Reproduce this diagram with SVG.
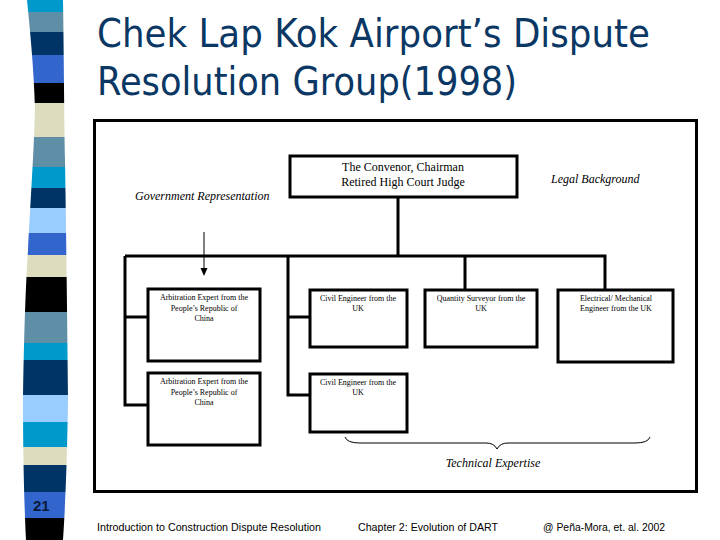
<svg xmlns="http://www.w3.org/2000/svg" width="720" height="540" viewBox="0 0 720 540">
<style>
.frame{fill:none;stroke:#000;stroke-width:3}
.box{fill:#fff;stroke:#000;stroke-width:3}
.conn{fill:none;stroke:#000;stroke-width:3}
.thin{fill:none;stroke:#000;stroke-width:1}
.title{font-family:"DejaVu Sans","Open Sans",sans-serif;font-size:39px;fill:#0b3764}
.head{font-family:"Liberation Serif",serif;font-size:12px;fill:#000;text-anchor:middle}
.ital{font-family:"Liberation Serif",serif;font-size:12px;font-style:italic;fill:#000}
.small{font-family:"Liberation Serif",serif;font-size:8px;fill:#000;text-anchor:middle}
.foot{font-family:"Liberation Sans",sans-serif;font-size:10px;fill:#000}
</style>
<defs>
<clipPath id="band"><path d="M27,0 L63,0 C64,60 64,100 65,160 C66,220 67,300 68,400 C67,470 65,510 63,540 L26,540 C24,500 23,450 23,400 C24,330 26,280 28,250 C30,210 34,150 35,110 C34,70 30,30 27,0 Z"/></clipPath>
</defs>
<rect width="720" height="540" fill="#fff"/>
<g id="stripes" clip-path="url(#band)">
<rect x="0" y="0" width="90" height="12" fill="#0099cc"/>
<rect x="0" y="12" width="90" height="20" fill="#5f8fa6"/>
<rect x="0" y="32" width="90" height="23" fill="#003366"/>
<rect x="0" y="55" width="90" height="28" fill="#3366cc"/>
<rect x="0" y="83" width="90" height="20" fill="#000"/>
<rect x="0" y="103" width="90" height="34" fill="#dddcbf"/>
<rect x="0" y="137" width="90" height="30" fill="#5f8fa6"/>
<rect x="0" y="167" width="90" height="21" fill="#0099cc"/>
<rect x="0" y="188" width="90" height="20" fill="#003366"/>
<rect x="0" y="208" width="90" height="25" fill="#99ccff"/>
<rect x="0" y="233" width="90" height="22" fill="#3366cc"/>
<rect x="0" y="255" width="90" height="22" fill="#dddcbf"/>
<rect x="0" y="277" width="90" height="35" fill="#000"/>
<rect x="0" y="312" width="90" height="31" fill="#5f8fa6"/>
<rect x="0" y="343" width="90" height="17" fill="#0099cc"/>
<rect x="0" y="360" width="90" height="35" fill="#003366"/>
<rect x="0" y="395" width="90" height="27" fill="#99ccff"/>
<rect x="0" y="422" width="90" height="25" fill="#0099cc"/>
<rect x="0" y="447" width="90" height="18" fill="#dddcbf"/>
<rect x="0" y="465" width="90" height="27" fill="#003366"/>
<rect x="0" y="492" width="90" height="26" fill="#3366cc"/>
<rect x="0" y="518" width="90" height="22" fill="#000"/>
</g>
<text x="33" y="511" font-family="Liberation Sans,sans-serif" font-size="15" font-weight="bold" fill="#0a1a3a">21</text>
<text class="title" x="97" y="47" textLength="553" lengthAdjust="spacingAndGlyphs">Chek Lap Kok Airport’s Dispute</text>
<text class="title" x="97" y="95" textLength="420" lengthAdjust="spacingAndGlyphs">Resolution Group(1998)</text>
<rect class="frame" x="94.5" y="120.5" width="602" height="371"/>
<g id="connectors">
<path class="conn" d="M398,197 V256 M125,256 H605 V290 M465,256 V290 M125,256 V405 H148 M125,317 H148 M288,256 V395 H310 M288,317 H310"/>
<line class="thin" x1="204" y1="232" x2="204" y2="270"/>
<path d="M200.5,268 L207.5,268 L204,276 Z" fill="#000"/>
<path class="thin" d="M345,437 Q347,443 360,443 L486,443 Q494,443 497,449 Q500,443 508,443 L635,443 Q648,443 650,437"/>
</g>
<g id="chairman">
<rect class="box" x="290" y="156" width="227" height="41"/>
<text class="head" x="403" y="171">The Convenor, Chairman</text>
<text class="head" x="403" y="186">Retired High Court Judge</text>
</g>
<text class="ital" x="551" y="183">Legal Background</text>
<text class="ital" x="135" y="200">Government Representation</text>
<g id="arb1">
<rect class="box" x="148" y="289" width="112" height="72"/>
<text class="small" x="204" y="300">Arbitration Expert from the</text>
<text class="small" x="204" y="311">People’s Republic of</text>
<text class="small" x="204" y="321">China</text>
</g>
<g id="arb2">
<rect class="box" x="148" y="373" width="112" height="72"/>
<text class="small" x="204" y="384">Arbitration Expert from the</text>
<text class="small" x="204" y="395">People’s Republic of</text>
<text class="small" x="204" y="405">China</text>
</g>
<g id="civ1">
<rect class="box" x="310" y="290" width="97" height="57"/>
<text class="small" x="358" y="301">Civil Engineer from the</text>
<text class="small" x="358" y="311">UK</text>
</g>
<g id="civ2">
<rect class="box" x="310" y="374" width="97" height="58"/>
<text class="small" x="358" y="385">Civil Engineer from the</text>
<text class="small" x="358" y="395">UK</text>
</g>
<g id="qs">
<rect class="box" x="425" y="290" width="112" height="57"/>
<text class="small" x="481" y="301">Quantity Surveyor from the</text>
<text class="small" x="481" y="311">UK</text>
</g>
<g id="em">
<rect class="box" x="558" y="290" width="115" height="72"/>
<text class="small" x="616" y="301">Electrical/ Mechanical</text>
<text class="small" x="616" y="311">Engineer from the UK</text>
</g>
<text class="ital" x="493" y="467" text-anchor="middle">Technical Expertise</text>
<text class="foot" x="97" y="531" textLength="224" lengthAdjust="spacingAndGlyphs">Introduction to Construction Dispute Resolution</text>
<text class="foot" x="358" y="531" textLength="140" lengthAdjust="spacingAndGlyphs">Chapter 2: Evolution of DART</text>
<text class="foot" x="543" y="531" textLength="122" lengthAdjust="spacingAndGlyphs">@ Peña-Mora, et. al. 2002</text>
</svg>
